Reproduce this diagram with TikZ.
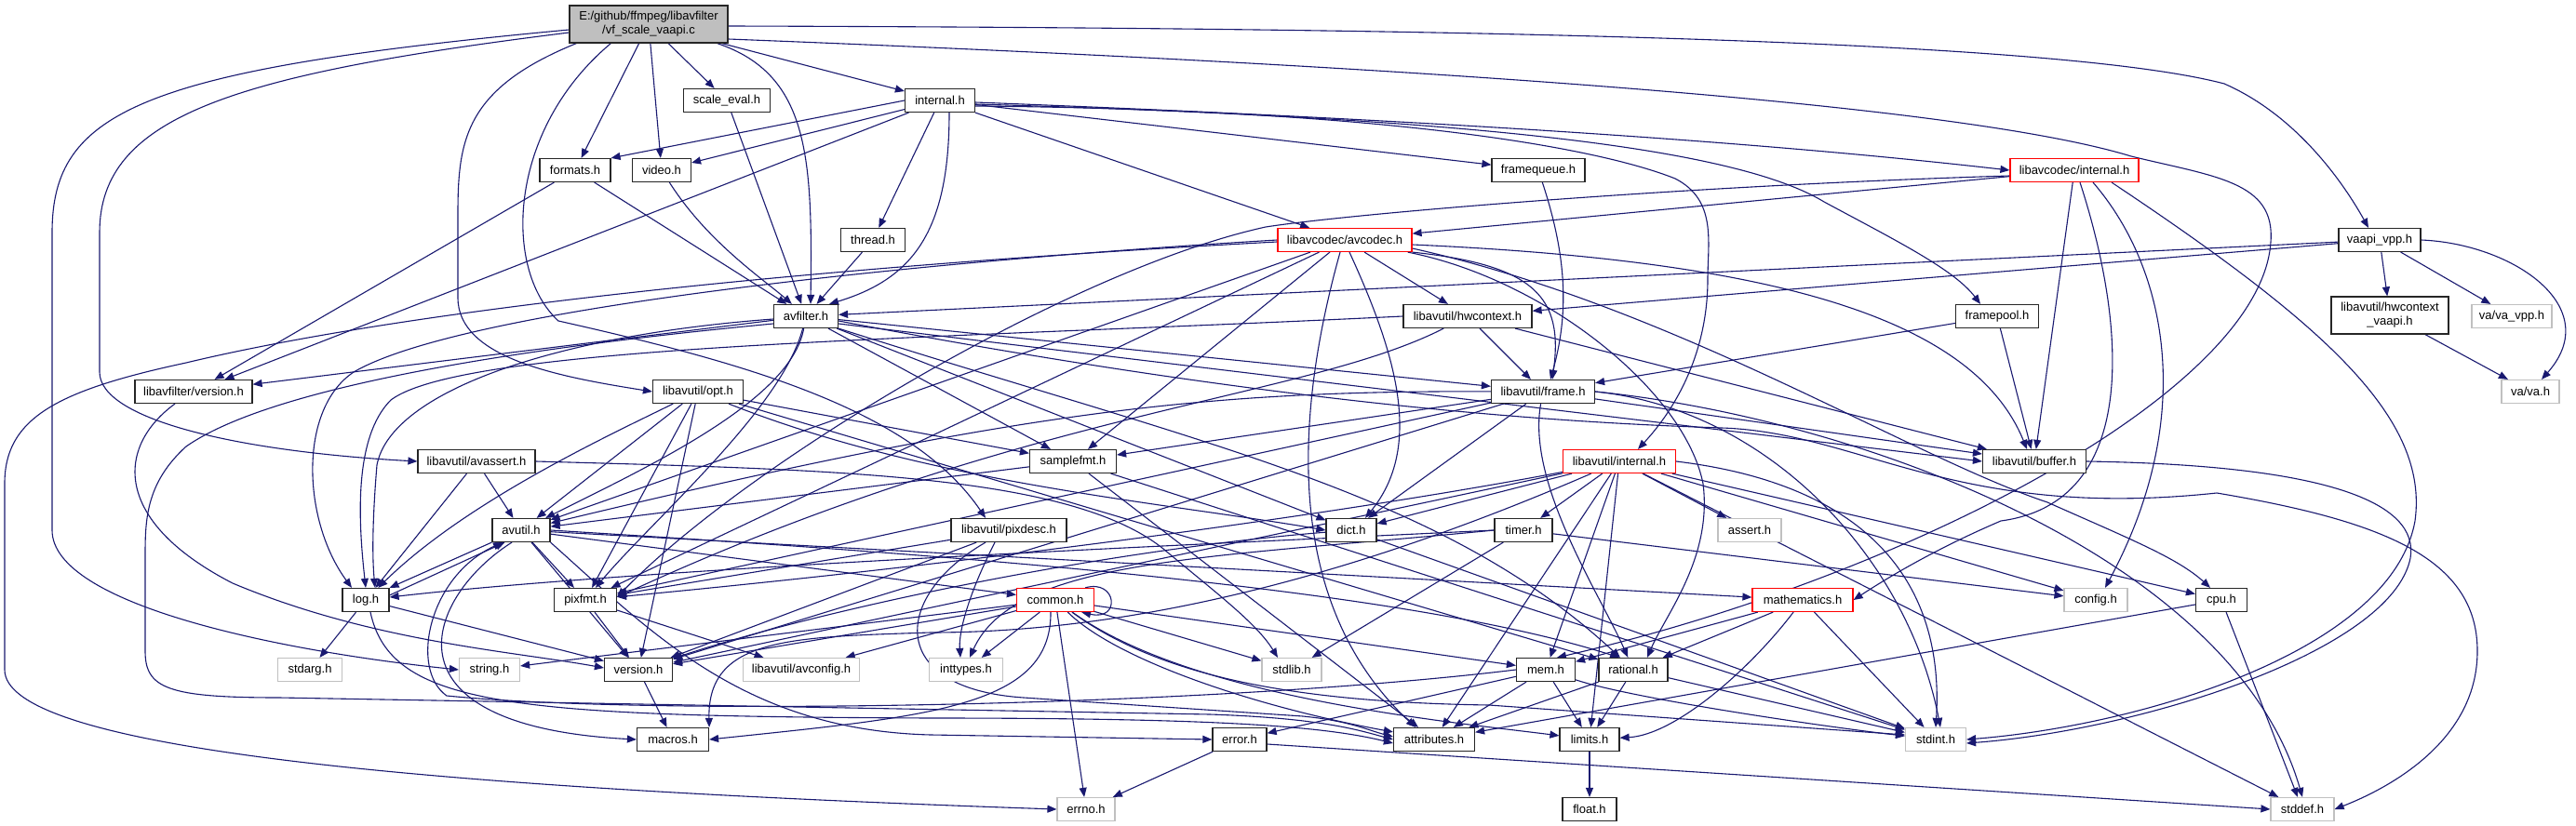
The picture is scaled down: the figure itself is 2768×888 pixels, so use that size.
\documentclass[tikz,border=0pt]{standalone}
\usepackage{fontspec}
\setmainfont{Liberation Sans}
\usetikzlibrary{arrows.meta}
\definecolor{edgec}{HTML}{191970}
\definecolor{rootfill}{HTML}{BFBFBF}
\definecolor{extc}{HTML}{C0C0C0}
\definecolor{truncc}{HTML}{FF0000}
\pgfdeclarelayer{edgelayer}
\pgfsetlayers{edgelayer,main}
\tikzset{
  nd/.style={draw=black!85, line width=1.2pt, fill=white, rectangle, inner sep=0pt,
    minimum height=25pt, font=\fontsize{13}{15}\selectfont, text=black},
  tr/.style={nd, draw=truncc},
  ex/.style={nd, draw=extc},
  edg/.style={draw=edgec, line width=1.1pt, -{Triangle[length=10pt,width=8pt]}}
}
\begin{document}
\begin{tikzpicture}[x=1pt,y=-1pt]
\useasboundingbox (0,0) rectangle (2768,888);
% ---------------- nodes ----------------
\node[nd, fill=rootfill, minimum width=170pt, minimum height=40pt, align=center] (root) at (697,26) {E:/github/ffmpeg/libavfilter\\/vf\_scale\_vaapi.c};
\node[nd, minimum width=93pt] (scaleeval) at (781,108) {scale\_eval.h};
\node[nd, minimum width=75pt] (internal) at (1010,108) {internal.h};
\node[nd, minimum width=76pt] (formats) at (618,183) {formats.h};
\node[nd, minimum width=63pt] (video) at (711,183) {video.h};
\node[nd, minimum width=100pt] (framequeue) at (1653,183) {framequeue.h};
\node[tr, minimum width=138pt] (lavcinternal) at (2229,183) {libavcodec/internal.h};
\node[nd, minimum width=69pt] (thread) at (938,258) {thread.h};
\node[tr, minimum width=144pt] (avcodec) at (1445,258) {libavcodec/avcodec.h};
\node[nd, minimum width=88pt] (vaapivpp) at (2557,258) {vaapi\_vpp.h};
\node[nd, minimum width=69pt] (avfilter) at (866,340) {avfilter.h};
\node[nd, minimum width=138pt] (hwcontext) at (1577,340) {libavutil/hwcontext.h};
\node[nd, minimum width=89pt] (framepool) at (2146,340) {framepool.h};
\node[nd, minimum width=126pt, minimum height=40pt, align=center] (hwvaapi) at (2568,339) {libavutil/hwcontext\\\_vaapi.h};
\node[ex, minimum width=86pt] (vavpp) at (2699,340) {va/va\_vpp.h};
\node[nd, minimum width=126pt] (lavfversion) at (208,421) {libavfilter/version.h};
\node[nd, minimum width=97pt] (opt) at (750,421) {libavutil/opt.h};
\node[nd, minimum width=111pt] (frame) at (1658,421) {libavutil/frame.h};
\node[ex, minimum width=62pt] (vava) at (2719,421) {va/va.h};
\node[nd, minimum width=126pt] (avassert) at (512,496) {libavutil/avassert.h};
\node[nd, minimum width=93pt] (samplefmt) at (1153,496) {samplefmt.h};
\node[tr, minimum width=121pt] (lavuinternal) at (1740,496) {libavutil/internal.h};
\node[nd, minimum width=111pt] (buffer) at (2186,496) {libavutil/buffer.h};
\node[nd, minimum width=62pt] (avutil) at (560,570) {avutil.h};
\node[nd, minimum width=124pt] (pixdesc) at (1084,570) {libavutil/pixdesc.h};
\node[nd, minimum width=54pt] (dict) at (1452,570) {dict.h};
\node[nd, minimum width=62pt] (timer) at (1637,570) {timer.h};
\node[ex, minimum width=68pt] (assert) at (1880,570) {assert.h};
\node[nd, minimum width=50pt] (log) at (393,645) {log.h};
\node[nd, minimum width=67pt] (pixfmt) at (629,645) {pixfmt.h};
\node[tr, minimum width=83pt] (common) at (1134,645) {common.h};
\node[tr, minimum width=108pt] (mathematics) at (1937,645) {mathematics.h};
\node[ex, minimum width=68pt] (config) at (2252,645) {config.h};
\node[nd, minimum width=55pt] (cpu) at (2387,645) {cpu.h};
\node[ex, minimum width=69pt] (stdarg) at (333,720) {stdarg.h};
\node[ex, minimum width=65pt] (string) at (526,720) {string.h};
\node[nd, minimum width=73pt] (version) at (686,720) {version.h};
\node[ex, minimum width=125pt] (avconfig) at (861,720) {libavutil/avconfig.h};
\node[ex, minimum width=79pt] (inttypes) at (1038,720) {inttypes.h};
\node[ex, minimum width=64pt] (stdlib) at (1388,720) {stdlib.h};
\node[nd, minimum width=63pt] (mem) at (1661,720) {mem.h};
\node[nd, minimum width=74pt] (rational) at (1755,720) {rational.h};
\node[nd, minimum width=77pt] (macros) at (723,795) {macros.h};
\node[nd, minimum width=58pt] (error) at (1332,795) {error.h};
\node[nd, minimum width=87pt] (attributes) at (1541,795) {attributes.h};
\node[nd, minimum width=64pt] (limits) at (1708,795) {limits.h};
\node[ex, minimum width=65pt] (stdint) at (2080,795) {stdint.h};
\node[ex, minimum width=62pt] (errno) at (1167,870) {errno.h};
\node[nd, minimum width=58pt] (float) at (1708,870) {float.h};
\node[ex, minimum width=68pt] (stddef) at (2474,870) {stddef.h};
% ---------------- edges ----------------
\begin{pgfonlayer}{edgelayer}
\fill[white] (0,0) rectangle (2768,888);
% root
\draw[edg] ([yshift=-6pt]root.west) .. controls (150,75) and (56,120) .. (56,250) -- (56,570) .. controls (56,650) and (300,700) .. (string.west);
\draw[edg] ([yshift=-9pt]root.west) .. controls (250,80) and (107,125) .. (107,250) -- (107,400) .. controls (107,450) and (250,485) .. (avassert.west);
\draw[edg] ([xshift=8pt]root.south west) .. controls (500,95) and (492,150) .. (492,230) -- (492,320) .. controls (492,385) and (600,405) .. (opt.west);
\draw[edg] ([xshift=45pt]root.south west) .. controls (545,140) and (540,290) .. (600,345) .. controls (800,390) and (980,440) .. ([xshift=-25pt]pixdesc.north);
\draw[edg] (root) -- (formats);
\draw[edg] (root) -- (video);
\draw[edg] (root) -- (scaleeval);
\draw[edg] ([xshift=-12pt]root.south east) .. controls (870,80) and (873,170) .. ([xshift=5pt]avfilter.north);
\draw[edg] (root) -- (internal);
\draw[edg] ([yshift=-2pt]root.east) .. controls (1500,30) and (2200,40) .. (2390,90) .. controls (2470,125) and (2520,200) .. ([xshift=-12pt]vaapivpp.north);
\draw[edg] ([yshift=-16pt]root.east) .. controls (1500,70) and (2100,110) .. (2290,168) .. controls (2380,190) and (2445,195) .. (2440,260) .. controls (2430,420) and (2050,620) .. ([xshift=12pt]mem.north);
% formats, video, scale_eval
\draw[edg] (formats) -- (lavfversion);
\draw[edg] (formats) -- (avfilter);
\draw[edg] (video) .. controls (760,260) and (820,300) .. (avfilter);
\draw[edg] (scaleeval) -- (avfilter);
% internal.h
\draw[edg] (internal.west) -- (formats.north east);
\draw[edg] (internal) -- (video);
\draw[edg] (internal) -- (lavfversion);
\draw[edg] (internal) -- (thread);
\draw[edg] ([xshift=10pt]internal.south) .. controls (1020,250) and (980,300) .. ([xshift=25pt]avfilter.north);
\draw[edg] (internal) -- (framequeue);
\draw[edg] ([yshift=-2pt]internal.east) .. controls (1700,135) and (2000,165) .. (lavcinternal.west);
\draw[edg] (internal) -- (avcodec);
\draw[edg] ([yshift=-4pt]internal.east) .. controls (1500,125) and (1850,150) .. (1960,217) .. controls (2040,260) and (2100,290) .. ([xshift=-18pt]framepool.north);
\draw[edg] ([yshift=-6pt]internal.east) .. controls (1500,118) and (1720,160) .. (1800,192) .. controls (1845,215) and (1835,260) .. (1835,300) .. controls (1835,380) and (1800,440) .. ([xshift=20pt]lavuinternal.north);
\draw[edg] (thread) -- (avfilter);
\draw[edg] (framequeue) .. controls (1685,280) and (1685,340) .. ([xshift=8pt]frame.north);
% libavcodec/internal.h
\draw[edg] (lavcinternal) -- (avcodec);
\draw[edg] ([yshift=-6pt]lavcinternal.west) .. controls (1800,200) and (1450,230) .. (1360,244) .. controls (1150,290) and (800,500) .. ([yshift=3pt]pixfmt.east);
\draw[edg] (lavcinternal) -- (buffer);
\draw[edg] ([xshift=20pt]lavcinternal.south) .. controls (2330,290) and (2360,450) .. ([xshift=10pt]config.north);
\draw[edg] ([xshift=6pt]lavcinternal.south) .. controls (2285,350) and (2300,540) .. (2150,560) .. controls (2080,590) and (2030,620) .. (mathematics.east);
\draw[edg] ([xshift=40pt]lavcinternal.south) .. controls (2500,350) and (2610,450) .. (2595,560) .. controls (2570,700) and (2300,780) .. (stdint.east);
% libavcodec/avcodec.h
\draw[edg] ([yshift=-2pt]avcodec.west) .. controls (900,285) and (450,330) .. (200,390) .. controls (60,420) and (5,450) .. (5,520) -- (5,720) .. controls (5,800) and (400,845) .. (errno.west);
\draw[edg] (avcodec) -- (hwcontext);
\draw[edg] (avcodec.south east) .. controls (1650,285) and (1680,320) .. ([xshift=10pt]frame.north);
\draw[edg] ([yshift=-5pt]avcodec.east) .. controls (1900,280) and (2120,340) .. ([xshift=-8pt]buffer.north);
\draw[edg] ([yshift=-9pt]avcodec.east) .. controls (1800,330) and (2050,490) .. (2200,540) .. controls (2290,580) and (2340,600) .. ([xshift=-12pt]cpu.north);
\draw[edg] ([xshift=-5pt]avcodec.south east) .. controls (1660,300) and (1810,420) .. (1830,520) .. controls (1840,600) and (1790,660) .. ([xshift=15pt]rational.north);
\draw[edg] (avcodec) -- (samplefmt);
\draw[edg] ([xshift=5pt]avcodec.south) .. controls (1500,380) and (1530,480) .. ([xshift=15pt]dict.north);
\draw[edg] ([xshift=-5pt]avcodec.south) .. controls (1390,450) and (1380,650) .. ([xshift=-20pt]attributes.north);
\draw[edg] (avcodec.west) .. controls (1000,280) and (500,330) .. (380,400) .. controls (320,440) and (325,560) .. ([xshift=-15pt]log.north);
\draw[edg] (avcodec) -- (avutil);
\draw[edg] (avcodec) -- (pixfmt);
% vaapi_vpp.h
\draw[edg] (vaapivpp) -- (hwvaapi);
\draw[edg] (vaapivpp) -- (vavpp);
\draw[edg] (vaapivpp.east) .. controls (2700,262) and (2800,330) .. ([xshift=12pt]vava.north);
\draw[edg] (vaapivpp) -- (hwcontext);
\draw[edg] (vaapivpp) -- (avfilter);
\draw[edg] (hwvaapi) -- (vava);
% framepool, hwcontext
\draw[edg] (framepool) -- (buffer);
\draw[edg] (framepool) -- (frame);
\draw[edg] (hwcontext) -- (frame);
\draw[edg] (hwcontext) -- (buffer);
\draw[edg] (hwcontext.west) .. controls (1000,365) and (500,370) .. (420,430) .. controls (380,470) and (385,560) .. (log.north);
\draw[edg] (hwcontext) .. controls (1400,430) and (1100,440) .. ([yshift=3pt]pixfmt.east);
% avfilter.h
\draw[edg] (avfilter) -- (lavfversion);
\draw[edg] ([yshift=-3pt]avfilter.west) .. controls (600,360) and (420,420) .. (405,500) .. controls (400,560) and (400,600) .. ([xshift=10pt]log.north);
\draw[edg] (avfilter) .. controls (850,430) and (700,500) .. (avutil);
\draw[edg] (avfilter) .. controls (840,440) and (700,560) .. (pixfmt);
\draw[edg] (avfilter) -- (frame);
\draw[edg] ([yshift=-8pt]avfilter.east) -- (buffer.west);
\draw[edg] (avfilter) -- (samplefmt);
\draw[edg] (avfilter) -- (dict);
\draw[edg] (avfilter.south east) .. controls (1300,480) and (1550,530) .. (rational);
\draw[edg] ([yshift=-8pt]avfilter.west) .. controls (600,370) and (300,410) .. (200,480) .. controls (156,520) and (156,560) .. (156,600) -- (156,700) .. controls (156,740) and (180,750) .. (300,750) -- (1300,768) .. controls (1420,772) and (1460,785) .. (attributes.west);
\draw[edg] ([yshift=-5pt]avfilter.east) .. controls (1400,440) and (1700,455) .. (1850,460) .. controls (2000,465) and (2100,560) .. (2382,530) .. controls (2560,560) and (2662,600) .. (2662,700) .. controls (2662,800) and (2560,850) .. (stddef.east);
% libavfilter/version.h
\draw[edg] ([xshift=-20pt]lavfversion.south) .. controls (125,480) and (120,560) .. (250,627) .. controls (400,690) and (550,700) .. ([yshift=2pt]version.west);
% opt.h
\draw[edg] (opt) -- (avutil);
\draw[edg] (opt) .. controls (650,470) and (500,540) .. (log);
\draw[edg] (opt) -- (pixfmt);
\draw[edg] (opt) -- (samplefmt);
\draw[edg] (opt) .. controls (1000,520) and (1250,540) .. (dict.west);
\draw[edg] (opt) -- (rational);
\draw[edg] (opt) -- (version);
% frame.h
\draw[edg] (frame) -- (buffer);
\draw[edg] (frame) -- (samplefmt);
\draw[edg] (frame) -- (dict);
\draw[edg] (frame) .. controls (1300,420) and (1100,440) .. (avutil);
\draw[edg] (frame) -- (pixfmt);
\draw[edg] (frame) -- (version);
\draw[edg] (frame) .. controls (1640,520) and (1720,640) .. (rational);
\draw[edg] (frame.east) .. controls (1900,440) and (2050,600) .. ([xshift=5pt]stdint.north);
\draw[edg] (frame.east) .. controls (2000,450) and (2400,600) .. (stddef.north);
% avassert.h
\draw[edg] (avassert) -- (avutil);
\draw[edg] (avassert) -- (log);
\draw[edg] (avassert.east) .. controls (900,505) and (1150,510) .. (1250,590) .. controls (1310,640) and (1350,670) .. ([xshift=-15pt]stdlib.north);
% samplefmt.h
\draw[edg] (samplefmt) -- (avutil);
\draw[edg] (samplefmt) -- (attributes);
\draw[edg] (samplefmt) -- (stdint);
% libavutil/internal.h
\draw[edg] (lavuinternal) -- (dict);
\draw[edg] (lavuinternal) -- (timer);
\draw[edg] (lavuinternal) -- (assert);
\draw[edg] (lavuinternal) -- (attributes);
\draw[edg] (lavuinternal) -- (mem);
\draw[edg] (lavuinternal) -- (limits);
\draw[edg] (lavuinternal.east) .. controls (2000,520) and (2090,620) .. (stdint.north);
\draw[edg] (lavuinternal) -- (stddef);
\draw[edg] (lavuinternal) -- (config);
\draw[edg] (lavuinternal) -- (cpu);
\draw[edg] (lavuinternal) .. controls (1400,560) and (1000,610) .. (pixfmt);
\draw[edg] (lavuinternal) -- (version);
\draw[edg] (lavuinternal) .. controls (1500,600) and (1250,680) .. (1000,680) .. controls (850,685) and (760,685) .. (macros.north east);
% buffer.h
\draw[edg] (buffer.east) .. controls (2500,500) and (2600,540) .. (2590,600) .. controls (2570,700) and (2300,785) .. ([yshift=-4pt]stdint.east);
% avutil.h
\draw[edg] (avutil.south west) -- (log.north east);
\draw[edg] ([yshift=-8pt]log.north east) -- ([xshift=14pt]avutil.south west);
\draw[edg] (avutil) -- (pixfmt);
\draw[edg] (avutil) -- (version);
\draw[edg] ([xshift=-10pt]avutil.south) .. controls (460,640) and (400,780) .. (macros.west);
\draw[edg] (avutil) -- (common);
\draw[edg] (avutil.south east) .. controls (700,680) and (800,785) .. (1000,790) -- (error.west);
\draw[edg] (avutil.east) .. controls (1000,595) and (1500,630) .. ([xshift=-15pt]rational.north);
\draw[edg] (avutil) -- (mathematics);
% pixdesc.h
\draw[edg] ([xshift=-15pt]pixdesc.south) .. controls (1040,640) and (1030,680) .. ([xshift=-6pt]inttypes.north);
\draw[edg] ([xshift=-25pt]pixdesc.south) .. controls (960,640) and (950,740) .. (1100,750) -- (1400,770) .. controls (1450,775) and (1470,785) .. ([yshift=3pt]attributes.west);
\draw[edg] (pixdesc) -- (pixfmt);
\draw[edg] (pixdesc) -- (version);
% dict.h, timer.h
\draw[edg] (dict) -- (stdint);
\draw[edg] (dict) .. controls (1200,590) and (900,650) .. (version);
\draw[edg] (timer) -- (stdlib);
\draw[edg] (timer) -- (config);
\draw[edg] (timer.west) .. controls (1300,585) and (700,610) .. ([yshift=3pt]log.east);
\draw[edg] (timer.west) .. controls (1300,600) and (1090,600) .. ([xshift=4pt]inttypes.north);
% log.h, pixfmt.h
\draw[edg] (log) -- (stdarg);
\draw[edg] (log) -- (version);
\draw[edg] ([xshift=5pt]log.south) .. controls (420,760) and (550,770) .. (1000,772) .. controls (1300,772) and (1420,780) .. ([yshift=-4pt]attributes.west);
\draw[edg] (pixfmt) -- (avconfig);
\draw[edg] (pixfmt) -- (version);
% common.h
\draw[edg] (common) -- (errno);
\draw[edg] (common) -- (inttypes);
\draw[edg] (common) -- (avconfig);
\draw[edg] (common) -- (version);
\draw[edg] (common) -- (string);
\draw[edg] ([xshift=-5pt]common.south) .. controls (1130,760) and (1000,770) .. (macros.east);
\draw[edg] (common) -- (stdlib);
\draw[edg] (common) .. controls (1200,710) and (1350,760) .. (attributes);
\draw[edg] (common) .. controls (1280,750) and (1550,775) .. (limits);
\draw[edg] (common) .. controls (1250,730) and (1400,755) .. (1600,758) -- ([yshift=5pt]stdint.west);
\draw[edg] (common) -- (mem);
\draw[edg] ([xshift=-10pt]common.north east) .. controls (1200,622) and (1205,668) .. ([xshift=-14pt]common.south east);
% mathematics.h
\draw[edg] (mathematics) -- (rational);
\draw[edg] (mathematics) -- (mem);
\draw[edg] (mathematics) .. controls (1880,720) and (1800,790) .. (limits);
\draw[edg] (mathematics) -- (stdint);
% cpu.h
\draw[edg] (cpu) -- (attributes);
\draw[edg] (cpu) -- (stddef);
% mem.h
\draw[edg] (mem) -- (error);
\draw[edg] (mem) -- (attributes);
\draw[edg] (mem) -- (limits);
\draw[edg] (mem) .. controls (1750,750) and (1950,780) .. (stdint);
\draw[edg] (mem.west) .. controls (1300,760) and (700,770) .. (480,748) .. controls (440,720) and (460,620) .. ([xshift=-20pt]avutil.south);
% rational.h
\draw[edg] (rational) -- (attributes);
\draw[edg] (rational) -- (limits);
\draw[edg] (rational) -- (stdint);
% error.h, limits.h, version.h
\draw[edg] (error) -- (errno);
\draw[edg] ([yshift=-5pt]error.east) -- (stddef.west);
\draw[edg] (limits) -- (float);
\draw[edg] (version) -- (macros);
\end{pgfonlayer}
\end{tikzpicture}
\end{document}
